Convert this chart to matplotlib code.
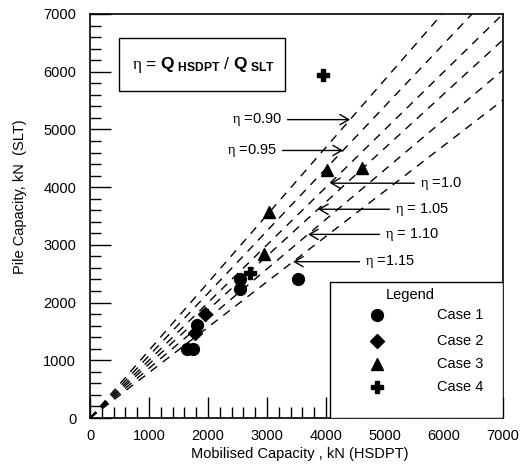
import matplotlib
matplotlib.use("Agg")
import matplotlib.pyplot as plt
from matplotlib.patches import Rectangle
from matplotlib.ticker import MultipleLocator

plt.rcParams['font.family'] = ['Liberation Sans', 'DejaVu Sans']
plt.rcParams['mathtext.fontset'] = 'custom'
plt.rcParams['mathtext.rm'] = 'Liberation Serif'
plt.rcParams['mathtext.it'] = 'Liberation Serif:italic'
plt.rcParams['mathtext.bf'] = 'Liberation Sans:bold'

# ratio lines (eta label, slope)
eta_labels = [r'$\mathrm{\eta}$ =0.90', r'$\mathrm{\eta}$ =0.95', r'$\mathrm{\eta}$ =1.0',
              r'$\mathrm{\eta}$ = 1.05', r'$\mathrm{\eta}$ = 1.10', r'$\mathrm{\eta}$ =1.15']
line_slope = [1.173, 1.081, 1.0, 0.936, 0.861, 0.787]

# measured points: mobilised capacity (HSDPT) vs pile capacity (SLT), kN
case1_x = [1640, 1750, 1810, 2540, 2540, 3530]
case1_y = [1200, 1200, 1610, 2230, 2410, 2400]
case2_x = [1780, 1950]
case2_y = [1470, 1800]
case3_x = [2950, 3030, 4020, 4610]
case3_y = [2850, 3570, 4290, 4330]
case4_x = [2710, 3950]
case4_y = [2510, 5950]

case_names = ['Case 1', 'Case 2', 'Case 3', 'Case 4']
case_marker = ['o', 'D', '^', 'P']
case_size = [8.5, 7.5, 8, 9]

fig = plt.figure(figsize=(5.3, 4.66), dpi=100)
ax = fig.add_axes([0.170, 0.103, 0.779, 0.867])
ax.set_xlim(0, 7000)
ax.set_ylim(0, 7000)

# dashed eta lines through origin
for s in line_slope:
    xe = min(7000, 7000 / s)
    ax.plot([0, xe], [0, s * xe], color='black', lw=1.0, ls=(0, (6, 5)), zorder=2)

# arrows with labels
head_x = [4407, 4288, 4068, 3864, 3695, 3441]
text_x = [3254, 3169, 5593, 5169, 5000, 4661]
for lab, s, hx, tx in zip(eta_labels, line_slope, head_x, text_x):
    hy = s * hx
    ha = 'right' if tx < hx else 'left'
    ax.annotate(lab, xy=(hx, hy), xytext=(tx, hy), ha=ha, va='center', fontsize=10.5,
                arrowprops=dict(arrowstyle='->,head_length=0.6,head_width=0.35',
                                color='black', lw=1, shrinkA=2, shrinkB=0))

xs = [case1_x, case2_x, case3_x, case4_x]
ys = [case1_y, case2_y, case3_y, case4_y]
for x, y, m, ms in zip(xs, ys, case_marker, case_size):
    ax.plot(x, y, ls='none', marker=m, ms=ms, color='black', mec='black', zorder=4)

# legend box
ax.add_patch(Rectangle((0.581, 0.0), 0.419, 0.337, transform=ax.transAxes,
                       facecolor='white', edgecolor='black', lw=1, zorder=5))
ax.text(0.775, 0.304, 'Legend', transform=ax.transAxes, ha='center', va='center',
        fontsize=10.5, zorder=6)
leg_y = [0.255, 0.191, 0.134, 0.077]
for name, m, ms, ly in zip(case_names, case_marker, case_size, leg_y):
    ax.plot([0.695], [ly], transform=ax.transAxes, marker=m, ms=ms, color='black',
            ls='none', zorder=6, clip_on=False)
    ax.text(0.840, ly, name, transform=ax.transAxes, ha='left', va='center',
            fontsize=10.5, zorder=6)

# definition box
ax.add_patch(Rectangle((0.070, 0.809), 0.402, 0.131, transform=ax.transAxes,
                       facecolor='white', edgecolor='black', lw=1, zorder=5))
ax.text(0.274, 0.874,
        r'$\mathrm{\eta}$ = $\mathbf{Q}_{\ \mathbf{HSDPT}}$ / $\mathbf{Q}_{\ \mathbf{SLT}}$',
        transform=ax.transAxes, ha='center', va='center', fontsize=12.5, zorder=6)

# axes styling
ax.xaxis.set_major_locator(MultipleLocator(1000))
ax.yaxis.set_major_locator(MultipleLocator(1000))
ax.xaxis.set_minor_locator(MultipleLocator(200))
ax.yaxis.set_minor_locator(MultipleLocator(200))
ax.tick_params(which='both', direction='in', top=False, right=False, width=1,
               labelsize=10.5, color='black')
ax.tick_params(which='major', length=15)
ax.tick_params(which='minor', length=8)
ax.tick_params(axis='y', which='major', pad=10)
ax.tick_params(axis='x', which='major', pad=8)
for sp in ax.spines.values():
    sp.set_linewidth(1.2)

fig.text(300 / 530, 1 - 454 / 466, 'Mobilised Capacity , kN (HSDPT)', ha='center',
         va='center', fontsize=10.5)
fig.text(20 / 530, 1 - 197 / 466, 'Pile Capacity, kN  (SLT)', rotation=90, ha='center',
         va='center', fontsize=10.5)

fig.savefig('out.png', dpi=100)
